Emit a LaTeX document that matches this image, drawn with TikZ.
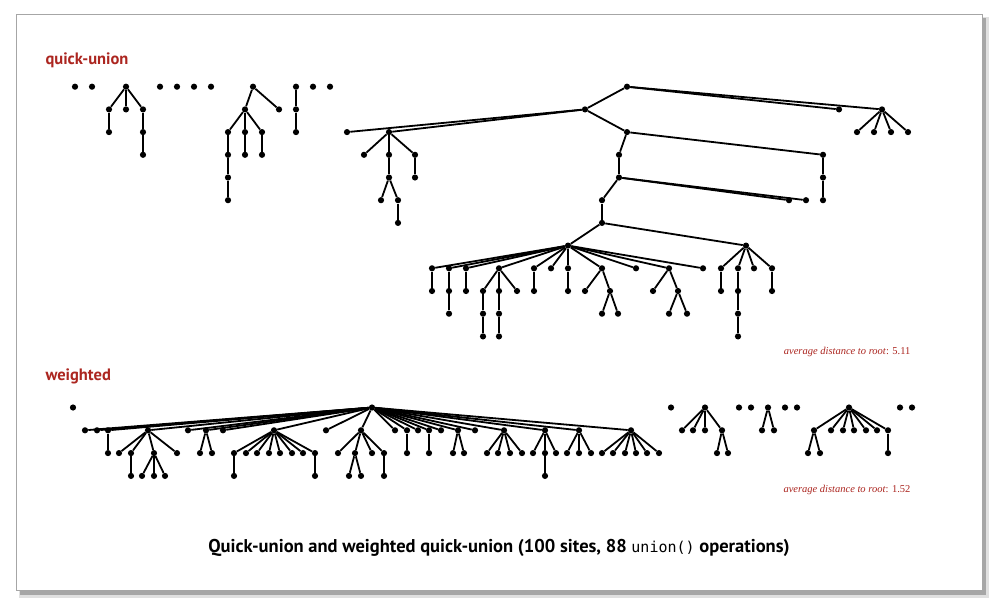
\documentclass[tikz,border=0pt]{standalone}
\usepackage{fontspec}
\setmainfont{Liberation Serif}
\setsansfont{PT Sans}
\setmonofont{DejaVu Sans Mono}
\definecolor{bookred}{RGB}{172,38,32}

\begin{document}
\begin{tikzpicture}[x = 1pt, y = -1pt,
    site/.style = {shape = circle, fill = black, inner sep = 0pt, minimum size = 6.2pt},
    link/.style = {line width = 1.8pt},
    heading/.style = {text = bookred, font = \sffamily\bfseries\fontsize{16.5}{19}\selectfont, anchor = west},
    average/.style = {text = bookred, font = \fontsize{10.5}{12}\selectfont, anchor = east}]
    \useasboundingbox (0,0) rectangle (999,610);
    \fill[black!12] (19,17) rectangle (989,598);
    \fill[black!35] (20,18) rectangle (986,595);
    \draw[black!35, fill = white] (16,14) rectangle (982,590);

    \node[heading] (qulabel) at (42,60) {quick-union};
    \node[heading] (wlabel) at (42,376) {weighted};

    \foreach \i/\x/\l in {1/75/0, 2/92/0, 3/160/0, 4/177/0, 5/194/0, 6/211/0, 7/313/0, 8/330/0,
        9/126/0, 10/109/1, 11/126/1, 12/143/1, 13/109/2, 14/143/2, 15/143/3,
        16/253/0, 17/245/1, 18/279/1, 19/228/2, 20/245/2, 21/262/2, 22/228/3, 23/245/3, 24/262/3, 25/228/4, 26/228/5,
        27/296/0, 28/296/1, 29/296/2,
        30/627/0, 31/585/1, 32/839/1, 33/882/1,
        34/347/2, 35/389/2, 36/627/2, 37/857/2, 38/874/2, 39/891/2, 40/908/2,
        41/364/3, 42/389/3, 43/415/3, 44/619/3, 45/823/3,
        46/389/4, 47/415/4, 48/619/4, 49/823/4,
        50/381/5, 51/398/5, 52/602/5, 53/789/5, 54/806/5, 55/823/5,
        56/398/6, 57/602/6, 58/568/7, 59/746/7,
        60/432/8, 61/449/8, 62/466/8, 63/499/8, 64/534/8, 65/551/8, 66/568/8, 67/602/8, 68/636/8, 69/669/8, 70/703/8,
        71/721/8, 72/738/8, 73/754/8, 74/772/8,
        75/432/9, 76/449/9, 77/466/9, 78/483/9, 79/499/9, 80/517/9, 81/534/9, 82/568/9, 83/585/9, 84/610/9,
        85/653/9, 86/678/9, 87/721/9, 88/738/9, 89/772/9,
        90/449/10, 91/483/10, 92/499/10, 93/602/10, 94/618/10, 95/669/10, 96/687/10, 97/738/10,
        98/483/11, 99/499/11, 100/738/11}
        \node[site] (q\i) at (\x, {86.7 + 22.7*\l}) {};

    \foreach \a/\b in {10/9, 11/9, 12/9, 13/10, 14/12, 15/14,
        17/16, 18/16, 19/17, 20/17, 21/17, 22/19, 23/20, 24/21, 25/22, 26/25,
        28/27, 29/28,
        31/30, 32/30, 33/30, 34/31, 35/31, 36/31, 37/33, 38/33, 39/33, 40/33,
        41/35, 42/35, 43/35, 44/36, 45/36, 46/42, 47/43, 48/44, 49/45,
        50/46, 51/46, 52/48, 53/48, 54/48, 55/49, 56/51, 57/52, 58/57, 59/57,
        60/58, 61/58, 62/58, 63/58, 64/58, 65/58, 66/58, 67/58, 68/58, 69/58, 70/58,
        71/59, 72/59, 73/59, 74/59,
        75/60, 76/61, 77/62, 78/63, 79/63, 80/63, 81/64, 82/66, 83/67, 84/67, 85/69, 86/69, 87/71, 88/72, 89/74,
        90/76, 91/78, 92/79, 93/84, 94/84, 95/86, 96/86, 97/88,
        98/91, 99/92, 100/97}
        \draw[link] (q\a) -- (q\b);

    \foreach \i/\x/\l in {1/73/0, 2/671/0, 3/739/0, 4/751/0, 5/785/0, 6/797/0, 7/900/0, 8/912/0,
        9/705/0, 10/682/1, 11/693/1, 12/705/1, 13/722/1, 14/717/2, 15/728/2,
        16/768/0, 17/762/1, 18/774/1,
        19/849/0, 20/814/1, 21/831/1, 22/843/1, 23/854/1, 24/866/1, 25/877/1, 26/888/1, 27/808/2, 28/820/2, 29/888/2,
        30/372/0,
        31/85/1, 32/97/1, 33/108/1, 34/148/1, 35/188/1, 36/206/1, 37/223/1, 38/274/1, 39/326/1, 40/361/1,
        41/395/1, 42/407/1, 43/418/1, 44/429/1, 45/441/1, 46/458/1, 47/475/1, 48/504/1, 49/545/1, 50/579/1, 51/631/1,
        52/108/2, 53/119/2, 54/131/2, 55/154/2, 56/177/2, 57/200/2, 58/212/2, 59/234/2, 60/246/2, 61/257/2,
        62/269/2, 63/280/2, 64/292/2, 65/303/2, 66/315/2, 67/338/2, 68/355/2, 69/372/2, 70/384/2, 71/407/2,
        72/429/2, 73/453/2, 74/464/2, 75/487/2, 76/498/2, 77/510/2, 78/522/2, 79/533/2, 80/545/2, 81/556/2,
        82/567/2, 83/579/2, 84/591/2, 85/602/2, 86/613/2, 87/625/2, 88/636/2, 89/647/2, 90/659/2,
        91/131/3, 92/142/3, 93/154/3, 94/165/3, 95/234/3, 96/315/3, 97/349/3, 98/361/3, 99/384/3, 100/545/3}
        \node[site] (w\i) at (\x, {407.5 + 22.8*\l}) {};

    \foreach \a in {31,...,51}
        \draw[link] (w\a) -- (w30);
    \foreach \a/\b in {10/9, 11/9, 12/9, 13/9, 14/13, 15/13,
        17/16, 18/16,
        20/19, 21/19, 22/19, 23/19, 24/19, 25/19, 26/19, 27/20, 28/20, 29/26,
        52/33, 53/34, 54/34, 55/34, 56/34, 57/36, 58/36,
        59/38, 60/38, 61/38, 62/38, 63/38, 64/38, 65/38, 66/38,
        67/40, 68/40, 69/40, 70/40, 71/42, 72/44, 73/46, 74/46,
        75/48, 76/48, 77/48, 78/48, 79/49, 80/49, 81/49, 82/50, 83/50, 84/50,
        85/51, 86/51, 87/51, 88/51, 89/51, 90/51,
        91/54, 92/55, 93/55, 94/55, 95/59, 96/66, 97/68, 98/68, 99/70, 100/80}
        \draw[link] (w\a) -- (w\b);

    \node[average] (qudist) at (914,352) {\textit{average distance to root}: 5.11};
    \node[average] (wdist) at (914,490) {\textit{average distance to root}: 1.52};
    \node[font = \sffamily\bfseries\fontsize{18.5}{21}\selectfont] (caption) at (499,548)
        {Quick-union and weighted quick-union (100 sites, 88 {\mdseries\ttfamily\fontsize{15}{17}\selectfont union()} operations)};
\end{tikzpicture}
\end{document}
